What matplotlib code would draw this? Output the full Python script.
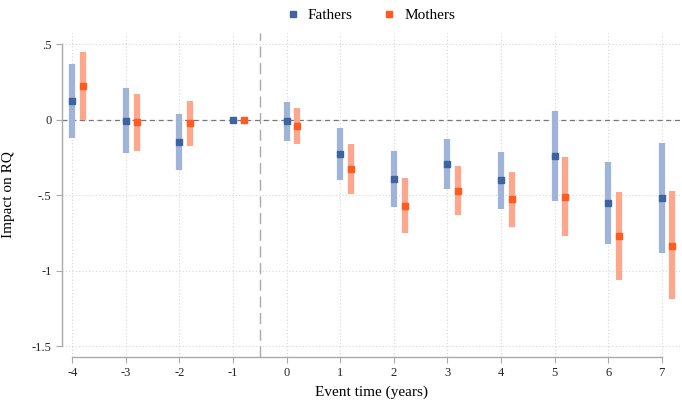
"""
Event study: impact on RQ for fathers and mothers
"""

import numpy as np
import matplotlib.pyplot as plt

event_time = [-4, -3, -2, -1, 0, 1, 2, 3, 4, 5, 6, 7]

fathers_est = [0.125, -0.01, -0.145, 0.0, -0.01, -0.225, -0.39, -0.295, -0.40, -0.24, -0.55, -0.52]
fathers_lo = [-0.12, -0.22, -0.335, 0.0, -0.14, -0.40, -0.575, -0.46, -0.59, -0.535, -0.82, -0.88]
fathers_hi = [0.37, 0.21, 0.04, 0.0, 0.12, -0.055, -0.205, -0.125, -0.215, 0.055, -0.28, -0.155]

mothers_est = [0.225, -0.015, -0.025, 0.0, -0.045, -0.325, -0.57, -0.47, -0.525, -0.51, -0.77, -0.835]
mothers_lo = [0.0, -0.205, -0.175, 0.0, -0.16, -0.49, -0.75, -0.63, -0.71, -0.77, -1.06, -1.185]
mothers_hi = [0.45, 0.17, 0.125, 0.0, 0.08, -0.16, -0.385, -0.305, -0.345, -0.245, -0.48, -0.475]

y_ticks = [0.5, 0, -0.5, -1, -1.5]
y_tick_labels = [".5", "0", "-.5", "-1", "-1.5"]


def plot_event_study():
    plt.rcParams['font.family'] = ['Liberation Serif', 'DejaVu Serif']
    plt.rcParams['axes.unicode_minus'] = False

    fig = plt.figure(figsize=(6.82, 4.03), dpi=100)
    ax = fig.add_axes([0.091, 0.114, 0.906, 0.804])

    x = np.array(event_time, dtype=float)
    xm = x + 0.2
    f_ci = [i for i, t in enumerate(event_time) if t != -1]

    blue_ci, blue_pt = "#9fb4d8", "#3d64a0"
    red_ci, red_pt = "#ffa78c", "#ff5a1f"

    ax.vlines(x[f_ci], np.array(fathers_lo)[f_ci], np.array(fathers_hi)[f_ci],
              color=blue_ci, linewidth=4.5, zorder=3)
    ax.vlines(xm[f_ci], np.array(mothers_lo)[f_ci], np.array(mothers_hi)[f_ci],
              color=red_ci, linewidth=4.5, zorder=3)
    ax.plot(x, fathers_est, "s", color=blue_pt, markersize=5, linestyle="none",
            zorder=4, label="Fathers")
    ax.plot(xm, mothers_est, "s", color=red_pt, markersize=5, linestyle="none",
            zorder=4, label="Mothers")

    # reference lines
    ax.axhline(0, color="#777777", linestyle=(0, (4, 3)), linewidth=0.9, zorder=2)
    ax.axvline(-0.5, color="#aaaaaa", linestyle=(0, (8, 4)), linewidth=1.0, zorder=2)

    ax.set_xlim(-4.19, 7.34)
    ax.set_ylim(-1.57, 0.573)
    ax.set_xticks(event_time)
    ax.set_yticks(y_ticks)
    ax.set_yticklabels(y_tick_labels)

    ax.grid(True, color="#d6d6d6", linestyle=(0, (1, 2)), linewidth=0.8, zorder=0)
    ax.set_axisbelow(True)

    for side in ["top", "right"]:
        ax.spines[side].set_visible(False)
    ax.spines["left"].set_bounds(-1.5, 0.5)
    ax.spines["bottom"].set_bounds(-4, 7)
    for side in ["left", "bottom"]:
        ax.spines[side].set_color("#aaaaaa")
        ax.spines[side].set_linewidth(1.0)
    ax.tick_params(colors="#aaaaaa", labelcolor="#222222", labelsize=9, length=4)

    ax.set_xlabel("Event time (years)", fontsize=11, labelpad=4)
    ax.set_ylabel("Impact on RQ", fontsize=11, labelpad=12)

    ax.legend(loc="lower center", bbox_to_anchor=(0.5, 1.0), ncol=2, frameon=False,
              fontsize=11, handlelength=0.8, handletextpad=0.6, columnspacing=2.0,
              markerscale=1.0, borderaxespad=0.3)

    fig.savefig("out.png", dpi=100)


if __name__ == "__main__":
    plot_event_study()
